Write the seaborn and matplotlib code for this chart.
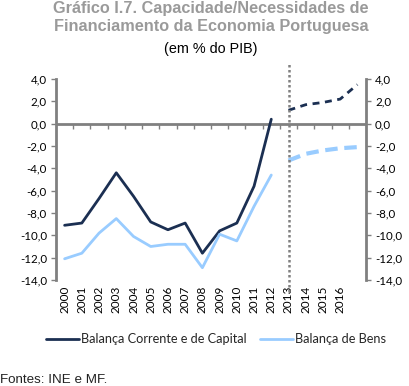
import matplotlib
matplotlib.use("Agg")
import matplotlib.pyplot as plt
import seaborn as sns
import pandas as pd
from matplotlib.lines import Line2D

# ---- data ----
anos = [str(y) for y in range(2000, 2018)]
rotulos_x = [str(y) for y in range(2000, 2017)] + [""]
corrente = [-9.1, -8.9, -6.7, -4.4, -6.5, -8.8, -9.5, -8.9, -11.6, -9.6, -8.9, -5.6, 0.4,
            1.2, 1.7, 1.9, 2.2, 3.5]
bens = [-12.1, -11.6, -9.8, -8.5, -10.1, -11.0, -10.8, -10.8, -12.9, -9.9, -10.5, -7.4, -4.6,
        -3.3, -2.7, -2.4, -2.2, -2.1]
n_hist = 13  # 2000-2012 observed, 2013-2017 projections
y_ticks = [4, 2, 0, -2, -4, -6, -8, -10, -12, -14]

titulo_l1 = "Gráfico I.7. Capacidade/Necessidades de"
titulo_l2 = "Financiamento da Economia Portuguesa"
subtitulo = "(em % do PIB)"
serie1 = "Balança Corrente e de Capital"
serie2 = "Balança de Bens"
fonte = "Fontes: INE e MF."

dark = "#1B2F52"
light = "#99CCFF"
grey = "#808080"

sns.set_style("white")
plt.rcParams["font.family"] = ["Lato", "DejaVu Sans"]

df = pd.DataFrame({"ano": anos, "corrente": corrente, "bens": bens})
hist = df.iloc[:n_hist]
proj = df.iloc[n_hist:]

fig = plt.figure(figsize=(4.09, 3.86), dpi=100)
ax = fig.add_axes([56/409, 1-280/386, 310/409, 201/386])

sns.lineplot(data=hist, x="ano", y="corrente", color=dark, lw=2.0, ax=ax, sort=False)
sns.lineplot(data=hist, x="ano", y="bens", color=light, lw=2.0, ax=ax, sort=False)
sns.lineplot(data=proj, x="ano", y="corrente", color=dark, lw=2.0, ax=ax, sort=False,
             linestyle=(0, (2.5, 2.0)))
sns.lineplot(data=proj, x="ano", y="bens", color=light, lw=3.0, ax=ax, sort=False,
             linestyle=(0, (3.0, 1.6)))

ax.set_xlim(-0.5, len(anos) - 0.5)
ax.set_ylim(-14, 4)
ax.set_xlabel("")
ax.set_ylabel("")

# zero line with category boundary ticks
ax.axhline(0, color=grey, lw=2.0, zorder=1)
sec = ax.secondary_xaxis(14/18)
sec.spines["bottom"].set_visible(False)
sec.spines["top"].set_visible(False)
sec.set_xticks([i + 0.5 for i in range(len(anos) - 1)])
sec.tick_params(axis="x", which="major", direction="out", length=3.5, width=1,
                color=grey, labeltop=False, labelbottom=False, top=False, bottom=True)

# vertical dotted separator at 2013
ax.axvline(n_hist, ymin=-0.06, ymax=1.085, color=grey, lw=1.8, ls=(0, (1, 1)),
           clip_on=False, zorder=3)

for s in ["top", "bottom"]:
    ax.spines[s].set_visible(False)
for s in ["left", "right"]:
    ax.spines[s].set_visible(True)
    ax.spines[s].set_color(grey)
    ax.spines[s].set_linewidth(2.0)

ax.set_yticks(y_ticks)
ax.set_yticklabels([f"{v:.1f}".replace(".", ",") for v in y_ticks])
ax.tick_params(axis="y", which="major", left=True, right=True, labelleft=True, labelright=True,
               direction="out", length=3.5, width=1, color=grey, pad=3,
               labelsize=8.3, labelcolor="#000000")
ax.set_xticks(range(len(anos)))
ax.set_xticklabels(rotulos_x, rotation=90)
ax.tick_params(axis="x", which="major", bottom=False, length=0, pad=4, labelsize=8.5,
               labelcolor="#000000")

# title & subtitle
tkw = dict(ha="center", va="baseline", fontsize=11.7, fontweight="bold", color="#9A9A9A",
           family=["Liberation Sans", "DejaVu Sans"])
fig.text(211/409, 1-12.5/386, titulo_l1, **tkw)
fig.text(211/409, 1-30.5/386, titulo_l2, **tkw)
fig.text(211/409, 1-53.5/386, subtitulo, ha="center", va="baseline", fontsize=10.4,
         color="#000000", family=["Liberation Sans", "DejaVu Sans"])

handles = [Line2D([], [], color=dark, lw=2.0), Line2D([], [], color=light, lw=2.0)]
fig.legend(handles, [serie1, serie2], loc="center", bbox_to_anchor=(216/409, 1-339/386),
           ncol=2, frameon=False, fontsize=9.2, handlelength=2.6, handletextpad=0.2,
           columnspacing=1.0)

fig.text(0/409, 1-380/386, fonte, ha="left", va="center", fontsize=9.6,
         color="#222222", family=["Liberation Sans", "DejaVu Sans"])

fig.savefig("out.png", dpi=100)
